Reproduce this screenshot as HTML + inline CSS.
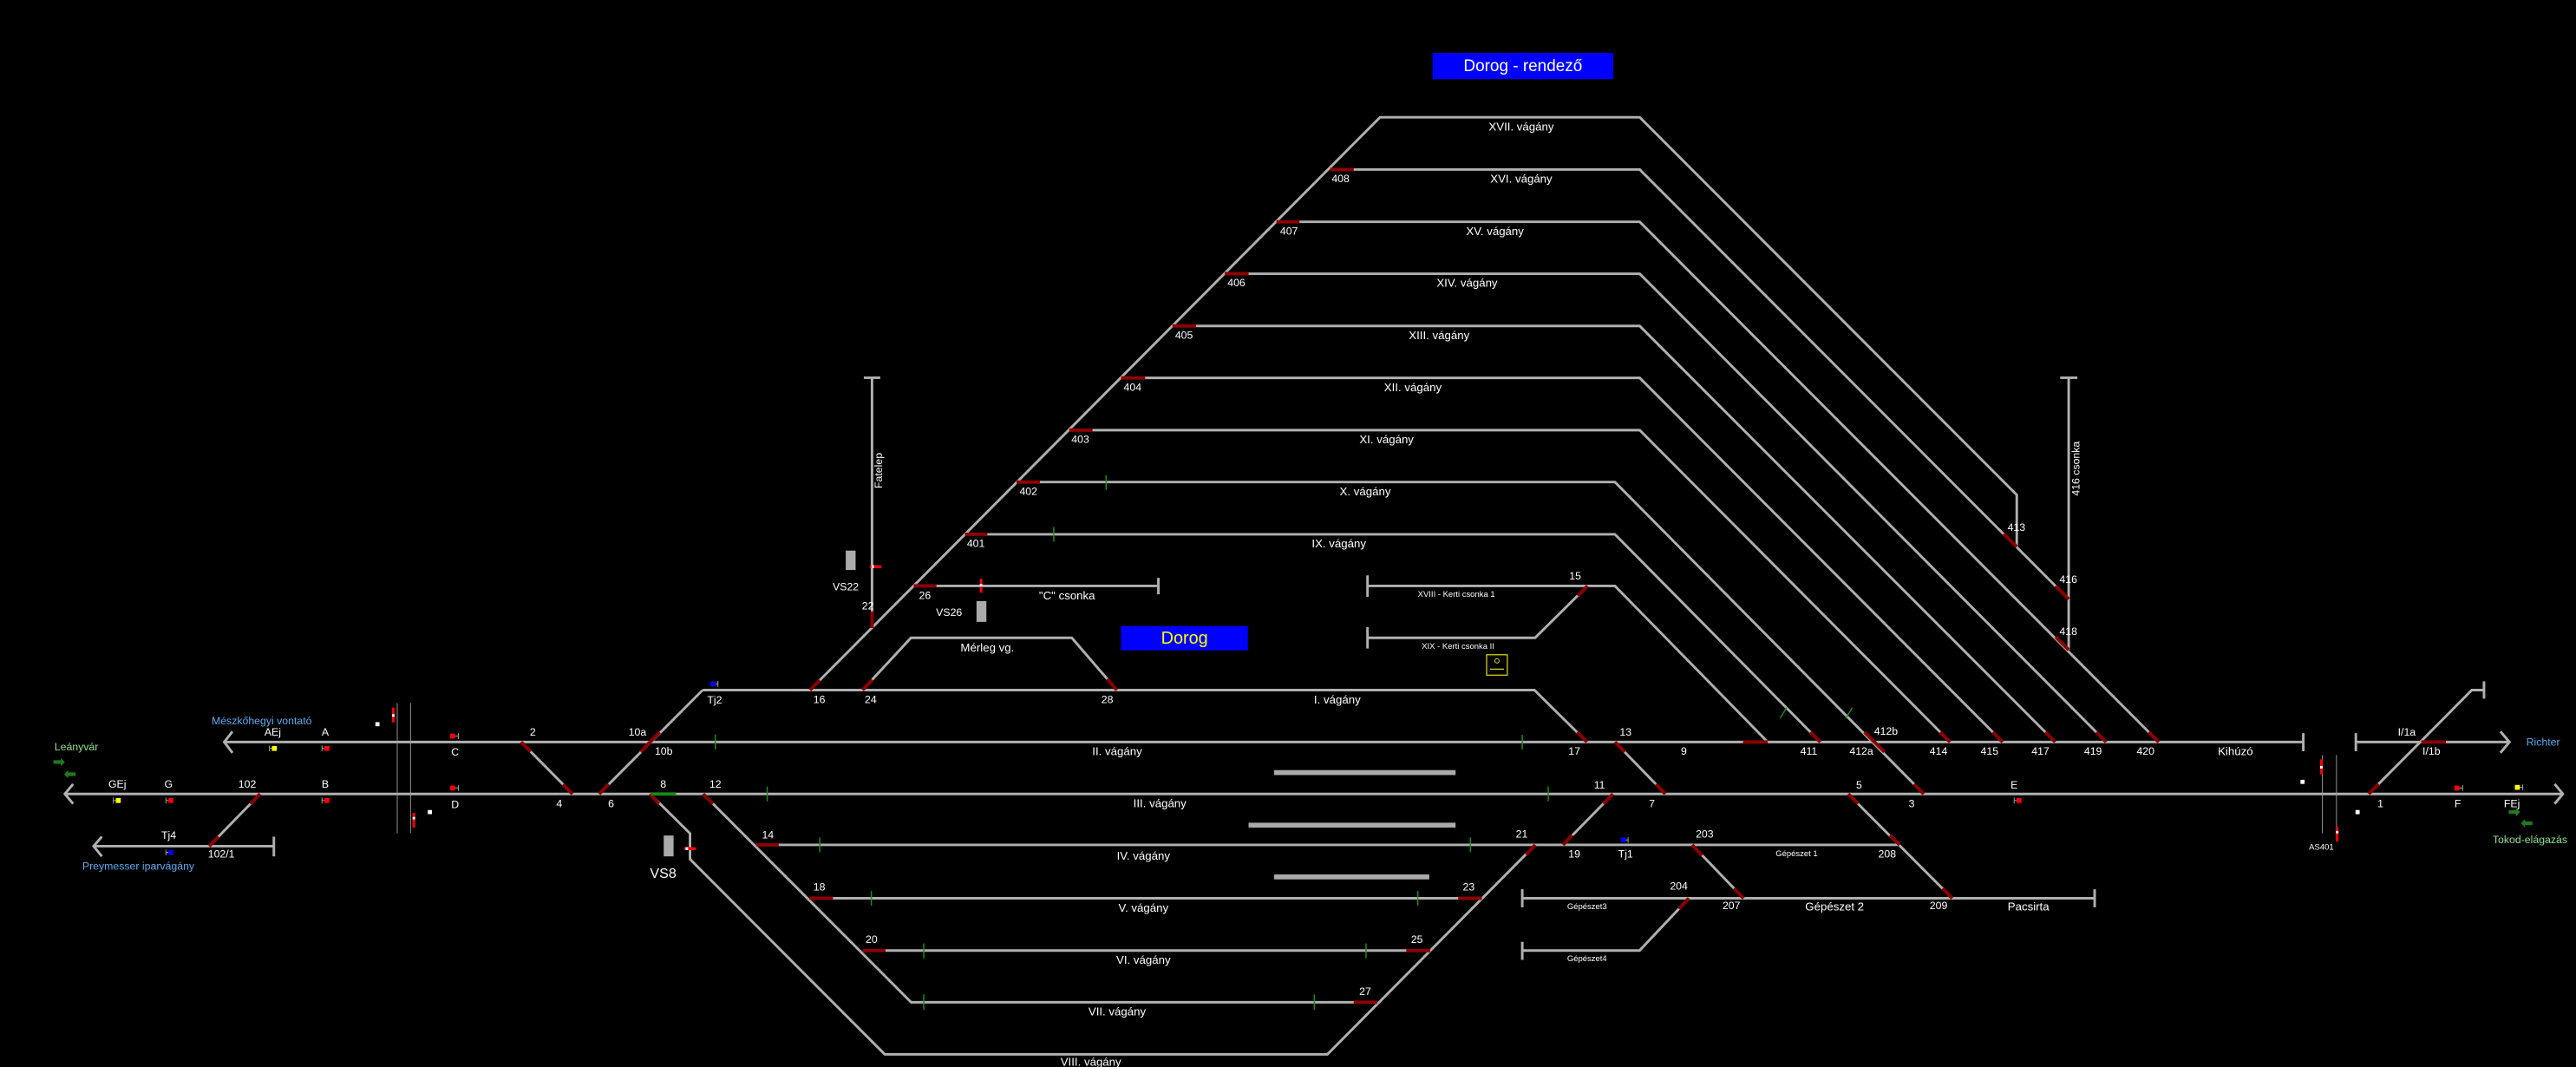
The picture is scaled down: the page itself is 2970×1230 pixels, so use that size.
<!DOCTYPE html>
<html><head><meta charset="utf-8"><style>
html,body{margin:0;padding:0;background:#000;}
svg{display:block}
text{font-family:"Liberation Sans","DejaVu Sans",sans-serif;fill:#fff;dominant-baseline:central;text-anchor:middle}
.t{stroke:#b0b0b0;stroke-width:1.55;fill:none}
.r{stroke:#8b0000;stroke-width:2.1;fill:none}
.g{stroke:#1f8a1f;stroke-width:0.8;fill:none}
.n{font-size:6.5px}
.v{font-size:7px}
.s{font-size:5px}
.lb{fill:#5aaaf0}
.lg{fill:#90e090}
</style></head><body>
<svg width="2970" height="1230" viewBox="0 0 1568 649" xmlns="http://www.w3.org/2000/svg">
<rect x="0" y="0" width="1568" height="649" fill="#000"/>
<g class="t">
<path d="M427.7 419.8 H934 L966 451.4"/>
<path d="M364.7 483 L427.7 419.8"/>
<path d="M136 451.4 H1402"/><path d="M1402 446 V457"/>
<path d="M1434 451.4 H1527"/><path d="M1434 446 V457"/><path d="M1522 445 L1527.5 451.4 L1522 458"/>
<path d="M39 483 H1560"/><path d="M44.5 477 L39.5 483 L44.5 489"/><path d="M1555 477 L1560 483 L1555 489"/>
<path d="M141.5 445 L136.5 451.4 L141.5 458"/>
<path d="M57 514.8 H166.7"/><path d="M166.7 509 V521"/><path d="M62 509 L57 514.8 L62 521"/>
<path d="M158.3 483 L127.3 514.8"/>
<path d="M317.2 451.4 L348.5 483"/>
<path d="M395.7 483 L420 507 V522.7 L538.6 641.5 H808 L934.5 514"/>
<path d="M428 483 L554.6 609.8 H838.3"/>
<path d="M460.4 514 H1156.3"/>
<path d="M492.8 546.5 H902"/>
<path d="M525.1 578.3 H870.6"/>
<path d="M951.4 514 L981.8 483"/>
<path d="M983 451.4 L1013.7 483"/>
<path d="M1030 514 L1061.3 546.5"/>
<path d="M1125 483 L1188.3 546.5"/>
<path d="M926.6 546.5 H1275"/><path d="M926.6 541 V552"/><path d="M1275 541 V552"/>
<path d="M926.6 578.3 H998 L1028 546.5"/><path d="M926.6 573 V584"/>
<path d="M1441.8 483 L1504.6 419.8 H1512"/><path d="M1512 414.5 V425"/>
<path d="M493 419.8 L840 71.2 H998.1 L1227.6 301 V332.6"/>
<path d="M809.7 103 H998.1 L1259.2 364.5"/>
<path d="M777 134.8 H998.1 L1314 451.4"/>
<path d="M745.5 166.4 H998.1 L1282 451.4"/>
<path d="M713.7 198.2 H998.1 L1251 451.4"/>
<path d="M682.4 229.8 H998.1 L1219 451.4"/>
<path d="M650.9 261.6 H998.1 L1187 451.4"/>
<path d="M618.8 293.2 H983 L1171 483"/>
<path d="M587.4 325 H983 L1108 451.4"/>
<path d="M832.4 356.4 H983 L1076 451.4"/><path d="M832.4 350 V363"/>
<path d="M832.4 388 H934.4 L966.3 356.4"/><path d="M832.4 381.5 V394.5"/>
<path d="M556.2 356.4 H705.1"/><path d="M705.1 351.5 V361.5"/>
<path d="M525 419.8 L554.5 388 H652.4 L679.8 419.8"/>
<path d="M530.8 229.7 V382"/><path d="M525.8 229.7 H535.8"/>
<path d="M1259.2 229.7 V395.3"/><path d="M1254 229.7 H1264.5"/>
</g>
<g class="r">
<path d="M158.3 483 L152.5 489"/><path d="M127.3 514.8 L133 509"/>
<path d="M317.2 451.4 L323 457.2"/><path d="M348.5 483 L342.7 477.2"/>
<path d="M364.7 483 L370.5 477"/><path d="M395.7 451.4 L401.5 445.4"/><path d="M395.7 451.4 L390 457.4"/>
<path d="M395.7 483 L401 489"/><path d="M428 483 L434 489"/>
<path d="M460.4 514 H474"/><path d="M492.8 546.5 H507"/><path d="M525.1 578.3 H539"/>
<path d="M493 419.8 L499 413.8"/><path d="M525 419.8 L531 413.6"/><path d="M679.8 419.8 L674 413"/>
<path d="M587.4 325 H601"/><path d="M618.8 293.2 H633"/><path d="M650.9 261.6 H665"/><path d="M682.4 229.8 H697"/>
<path d="M713.7 198.2 H728"/><path d="M745.5 166.4 H760"/><path d="M777 134.8 H791"/><path d="M809.7 103 H824"/>
<path d="M556.2 356.4 H570"/><path d="M530.8 372 V382"/>
<path d="M966.3 356.4 L960.5 362.5"/><path d="M966 451.4 L960 445.4"/><path d="M983 451.4 L989 457.4"/>
<path d="M1013.7 483 L1008 477"/><path d="M981.8 483 L976 489"/><path d="M951.4 514 L957 508"/>
<path d="M934.5 514 L929 520"/><path d="M887.6 546.5 H902"/><path d="M856 578.3 H870.6"/><path d="M824 609.8 H838.3"/>
<path d="M1061 451.4 H1076"/><path d="M1108 451.4 L1102 445.4"/><path d="M1135 445.4 L1147 457.4"/>
<path d="M1171 483 L1165 477"/>
<path d="M1187 451.4 L1181 445.4"/><path d="M1219 451.4 L1213 445.4"/><path d="M1251 451.4 L1245 445.4"/>
<path d="M1282 451.4 L1276 445.4"/><path d="M1314 451.4 L1308 445.4"/>
<path d="M1219.6 324.7 L1227.6 332.6"/><path d="M1251.3 356.4 L1259.2 364.5"/><path d="M1251.3 387.4 L1259.2 395.3"/>
<path d="M1125 483 L1131 489"/><path d="M1156.3 514 L1150.5 508"/><path d="M1188.3 546.5 L1182.5 540.5"/>
<path d="M1030 514 L1036 520.5"/><path d="M1061.3 546.5 L1055.5 540.5"/><path d="M1028 546.5 L1022 553"/>
<path d="M1441.8 483 L1447.8 477"/><path d="M1473.8 451.4 H1488.8"/>
</g>
<path d="M396.6 483 H411.5" stroke="#1a8a1a" stroke-width="2"/>
<g class="g">
<path d="M435.4 447 V456"/><path d="M467 478.5 V487.5"/><path d="M499 509.5 V518.5"/><path d="M530.4 542 V551"/>
<path d="M562.3 574 V583"/><path d="M562.3 605 V614.5"/><path d="M673.3 289 V298"/><path d="M641.4 320.5 V329.5"/>
<path d="M926.6 447 V456"/><path d="M942.4 478.5 V487.5"/><path d="M895 509.5 V518.5"/><path d="M863 542 V551"/>
<path d="M831.5 574 V583"/><path d="M800 605 V614.5"/>
<path d="M1083.5 437 L1087.5 430.5"/><path d="M1123.5 437 L1127.5 430.5"/>
</g>
<g fill="#aaa">
<rect x="775.5" y="468.5" width="110.5" height="3"/>
<rect x="760" y="500.5" width="126" height="3"/>
<rect x="775.5" y="532" width="94.5" height="3"/>
<rect x="514.8" y="334.9" width="6" height="11.8"/>
<rect x="594.4" y="365.6" width="6" height="12.7"/>
<rect x="404" y="508.3" width="6" height="12.7"/>
</g>
<g stroke="#999" stroke-width="0.5">
<path d="M241.8 427.7 V506.9"/><path d="M249.9 427.7 V506.9"/>
<path d="M1413.6 459.3 V506.9"/><path d="M1422.2 459.3 V506.9"/>
</g>
<g>
<g stroke="#aaa" stroke-width="0.5">
<path d="M164 453.5 V457 M164 455.3 H166"/><path d="M196 453.5 V457 M196 455.3 H198"/>
<path d="M69 485.2 V488.8 M69 487 H71"/><path d="M101 485.2 V488.8 M101 487 H103"/><path d="M196 485.2 V488.8 M196 487 H198"/>
<path d="M279 446 V449.6 M277 447.8 H279"/><path d="M279 477.6 V481.2 M277 479.4 H279"/>
<path d="M101 516.8 V520.4 M101 518.6 H103"/><path d="M437 414.2 V417.8 M435 416 H437"/>
<path d="M991 509.2 V512.8 M989 511 H991"/><path d="M1226 485.2 V488.8 M1226 487 H1228"/>
<path d="M1499 477.6 V481.2 M1497 479.4 H1499"/><path d="M1535.6 477.2 V480.8 M1533.6 479 H1535.6"/>
</g>
<rect x="165.5" y="453.8" width="3" height="3" fill="#ff0"/>
<rect x="197.5" y="453.8" width="3" height="3" fill="#f00"/>
<rect x="70.5" y="485.5" width="3" height="3" fill="#ff0"/>
<rect x="102.5" y="485.5" width="3" height="3" fill="#f00"/>
<rect x="197.5" y="485.5" width="3" height="3" fill="#f00"/>
<rect x="274" y="446.3" width="3" height="3" fill="#f00"/>
<rect x="274" y="477.9" width="3" height="3" fill="#f00"/>
<rect x="102.5" y="517.1" width="3" height="3" fill="#00f"/>
<rect x="432.5" y="414.5" width="3" height="3" fill="#00f"/>
<rect x="986.6" y="509.5" width="3" height="3" fill="#00f"/>
<rect x="1227.5" y="485.5" width="3" height="3" fill="#f00"/>
<rect x="1494" y="477.9" width="3" height="3" fill="#f00"/>
<rect x="1530.8" y="477.5" width="3" height="3" fill="#ff0"/>
<rect x="238.6" y="430.5" width="1.6" height="9" fill="#f00"/><rect x="238.6" y="434.5" width="1.6" height="1.5" fill="#fff"/>
<rect x="251.1" y="494.5" width="1.6" height="9" fill="#f00"/><rect x="251.1" y="497" width="1.6" height="1.5" fill="#fff"/>
<rect x="1412.2" y="462" width="1.6" height="9" fill="#f00"/><rect x="1412.2" y="466" width="1.6" height="1.5" fill="#fff"/>
<rect x="1421.8" y="503" width="1.6" height="9" fill="#f00"/><rect x="1421.8" y="505.5" width="1.6" height="1.5" fill="#fff"/>
<rect x="596.4" y="352" width="1.6" height="8.5" fill="#f00"/><rect x="596.4" y="355.3" width="1.6" height="1.5" fill="#fff"/>
<rect x="529.5" y="343.8" width="7" height="1.8" fill="#f00"/><rect x="530.5" y="343.8" width="1.5" height="1.8" fill="#fff"/>
<rect x="416.5" y="515.4" width="7" height="1.8" fill="#f00"/><rect x="417.3" y="515.4" width="1.5" height="1.8" fill="#fff"/>
<rect x="228.5" y="439.3" width="2.5" height="2.5" fill="#fff"/>
<rect x="260.4" y="492.8" width="2.5" height="2.5" fill="#fff"/>
<rect x="1400.3" y="474.4" width="2.5" height="2.5" fill="#fff"/>
<rect x="1433.8" y="492.8" width="2.5" height="2.5" fill="#fff"/>
<g fill="#1e7a1e">
<path d="M32.5 462.5 H37 V461 L39.5 463.6 L37 466.2 V464.7 H32.5 Z"/>
<path d="M46 469.9 H41.5 V468.4 L39 471 L41.5 473.6 V472.1 H46 Z"/>
<path d="M1527 492.9 H1531.5 V491.4 L1534 494 L1531.5 496.6 V495.1 H1527 Z"/>
<path d="M1541.5 499.7 H1537 V498.2 L1534.5 500.8 L1537 503.4 V501.9 H1541.5 Z"/>
</g>
<rect x="904.9" y="398.3" width="12.6" height="12.4" fill="none" stroke="#ee0" stroke-width="0.6"/>
<circle cx="911.2" cy="402" r="1.3" fill="none" stroke="#ee0" stroke-width="0.5"/>
<path d="M907 407 H915.5" stroke="#ee0" stroke-width="0.6"/>
</g>
<rect x="872" y="32" width="110" height="16" fill="#0000ff"/>
<text x="927" y="40.3" style="font-size:10px">Dorog - rendező</text>
<rect x="682.3" y="380.8" width="77.3" height="14.8" fill="#0000ff"/>
<text x="721" y="388.3" style="font-size:10.5px;fill:#ff0">Dorog</text>
<g class="v">
<text x="926" y="76.8">XVII. vágány</text>
<text x="926" y="108.7">XVI. vágány</text>
<text x="910" y="140.5">XV. vágány</text>
<text x="893" y="172">XIV. vágány</text>
<text x="876" y="204">XIII. vágány</text>
<text x="860" y="235.5">XII. vágány</text>
<text x="844" y="267.3">XI. vágány</text>
<text x="831" y="299">X. vágány</text>
<text x="815" y="330.7">IX. vágány</text>
<text x="814" y="425.5">I. vágány</text>
<text x="680" y="457">II. vágány</text>
<text x="706" y="488.8">III. vágány</text>
<text x="696" y="520.6">IV. vágány</text>
<text x="696" y="552.3">V. vágány</text>
<text x="696" y="583.9">VI. vágány</text>
<text x="680" y="615.5">VII. vágány</text>
<text x="664" y="646">VIII. vágány</text>
<text x="601" y="394">Mérleg vg.</text>
<text x="649.5" y="362.3">"C" csonka</text>
<text x="1360.7" y="457">Kihúzó</text>
<text x="1116.7" y="551.5">Gépészet 2</text>
<text x="1234.7" y="551.5">Pacsirta</text>
</g>
<g class="n">
<text x="816" y="108.7">408</text><text x="784.6" y="140.5">407</text><text x="752.6" y="172">406</text>
<text x="720.7" y="204">405</text><text x="689.4" y="235.5">404</text><text x="657.6" y="267.3">403</text>
<text x="626" y="299">402</text><text x="594" y="330.7">401</text>
<text x="514.8" y="357">VS22</text><text x="528.3" y="368.6">22</text><text x="563" y="362.3">26</text>
<text x="577.7" y="372.6">VS26</text><text x="958.8" y="350.5">15</text>
<text x="1227.4" y="320.8">413</text><text x="1259" y="352.5">416</text><text x="1259" y="384.2">418</text>
<text x="435" y="425.9">Tj2</text><text x="498.7" y="425.5">16</text><text x="530" y="425.5">24</text><text x="674" y="425.5">28</text>
<text x="166" y="445.3">AEj</text><text x="198" y="445.3">A</text>
<text x="71.4" y="477">GEj</text><text x="102.6" y="477">G</text><text x="150.5" y="477">102</text><text x="198" y="477">B</text>
<text x="277" y="457.6">C</text><text x="277" y="489.6">D</text>
<text x="324.3" y="445.3">2</text><text x="388" y="445.3">10a</text><text x="404" y="457">10b</text>
<text x="340.4" y="489">4</text><text x="372" y="489">6</text><text x="403.7" y="477">8</text><text x="435.4" y="477">12</text>
<text x="102.7" y="508.1">Tj4</text><text x="134.7" y="519.5">102/1</text>
<text x="467.4" y="508">14</text><text x="498.7" y="539.7">18</text><text x="530.5" y="571.5">20</text>
<text x="894" y="539.7">23</text><text x="862.5" y="571.5">25</text><text x="831" y="603.3">27</text>
<text x="958.3" y="457">17</text><text x="989.5" y="445.3">13</text>
<text x="1025" y="457">9</text><text x="1101" y="457">411</text><text x="1133" y="457">412a</text><text x="1148" y="445">412b</text>
<text x="1180" y="457">414</text><text x="1211" y="457">415</text><text x="1242" y="457">417</text><text x="1274" y="457">419</text><text x="1306" y="457">420</text>
<text x="973.6" y="477.5">11</text><text x="1005.5" y="489">7</text><text x="1131.6" y="477.5">5</text><text x="1163.6" y="489">3</text><text x="1226" y="477.5">E</text>
<text x="926.3" y="507.5">21</text><text x="958.3" y="519.5">19</text><text x="989.5" y="519.5">Tj1</text>
<text x="1037.6" y="507.5">203</text><text x="1148.7" y="519.5">208</text>
<text x="1021.9" y="539">204</text><text x="1053.9" y="551">207</text><text x="1180" y="551">209</text>
<text x="1465" y="445.3">I/1a</text><text x="1480" y="457">I/1b</text>
<text x="1449" y="489">1</text><text x="1496" y="489">F</text><text x="1529" y="489">FEj</text>
<text x="534.8" y="286.2" transform="rotate(-90 534.8 286.2)">Fatelep</text>
<text x="1263.6" y="285" transform="rotate(-90 1263.6 285)">416 csonka</text>
</g>
<text x="403.7" y="531.5" style="font-size:8.5px">VS8</text>
<g class="s">
<text x="886.5" y="361.6">XVIII - Kerti csonka 1</text>
<text x="887.5" y="393.3">XIX - Kerti csonka II</text>
<text x="1093.6" y="519.5">Gépészet 1</text>
<text x="966" y="551.7">Gépészet3</text>
<text x="966" y="583.4">Gépészet4</text>
<text x="1413" y="515.7">AS401</text>
</g>
<g class="n">
<text class="lb" x="159.3" y="438.6">Mészkőhegyi vontató</text>
<text class="lg" x="46.5" y="454.4">Leányvár</text>
<text class="lb" x="84.2" y="527">Preymesser iparvágány</text>
<text class="lb" x="1548" y="451.4">Richter</text>
<text class="lg" x="1540" y="511">Tokod-elágazás</text>
</g>
</svg>
</body></html>
